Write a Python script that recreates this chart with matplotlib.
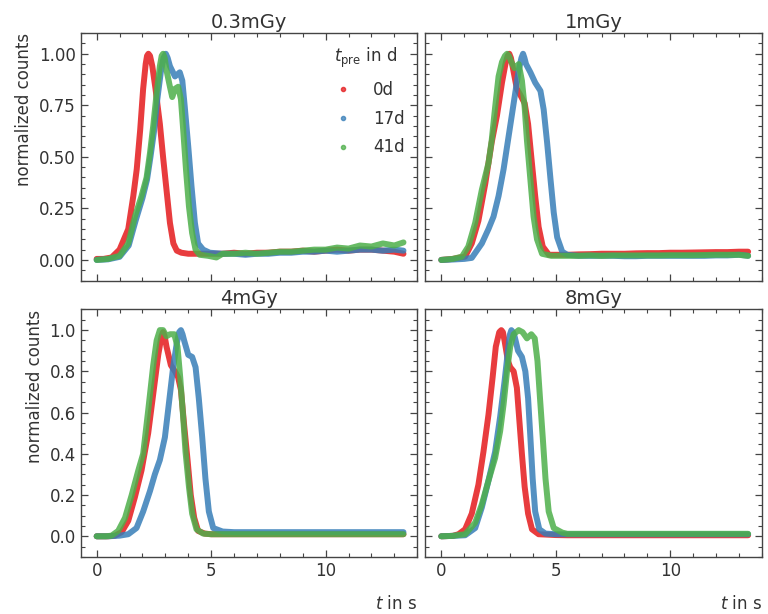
import matplotlib
matplotlib.use("Agg")
import matplotlib.pyplot as plt
from matplotlib.lines import Line2D
from matplotlib.ticker import MultipleLocator
import numpy as np

plt.rcParams['font.family'] = ['DejaVu Sans']
plt.rcParams['mathtext.fontset'] = 'dejavusans'
plt.rcParams['text.color'] = '#333333'
plt.rcParams['axes.labelcolor'] = '#333333'

# ---------------- data ----------------
titles = ["0.3mGy", "1mGy", "4mGy", "8mGy"]
labels = ["0d", "17d", "41d"]
colors = ["#e41a1c", "#377eb8", "#4daf4a"]

tail_x = [5.5, 6, 6.5, 7, 7.5, 8, 8.5, 9, 9.5, 10, 10.5, 11, 11.5, 12, 12.5, 13, 13.4]

# 0.3 mGy
a_red_x = [0, 0.3, 0.65, 1.0, 1.38, 1.6, 1.75, 1.9, 2.03, 2.14, 2.2, 2.26, 2.33, 2.43, 2.57, 2.76, 2.9, 3.05, 3.2, 3.35, 3.5, 3.7, 4.0, 4.5, 5.0]
a_red_y = [0.005, 0.005, 0.012, 0.05, 0.15, 0.31, 0.44, 0.63, 0.83, 0.95, 0.99, 1.0, 0.99, 0.94, 0.83, 0.66, 0.50, 0.34, 0.18, 0.08, 0.045, 0.035, 0.03, 0.03, 0.03]
a_red_t = [0.03, 0.035, 0.03, 0.035, 0.035, 0.04, 0.04, 0.045, 0.04, 0.045, 0.05, 0.045, 0.05, 0.05, 0.045, 0.04, 0.03]
a_blue_x = [0, 0.5, 1.0, 1.4, 1.7, 2.0, 2.2, 2.35, 2.5, 2.65, 2.8, 2.92, 3.02, 3.1, 3.2, 3.42, 3.63, 3.74, 3.85, 4.0, 4.14, 4.29, 4.43, 4.65, 4.94]
a_blue_y = [0.0, 0.003, 0.015, 0.07, 0.19, 0.30, 0.39, 0.50, 0.62, 0.78, 0.91, 0.98, 1.0, 0.98, 0.94, 0.89, 0.91, 0.87, 0.74, 0.55, 0.36, 0.18, 0.08, 0.05, 0.035]
a_blue_t = [0.03, 0.03, 0.025, 0.03, 0.03, 0.035, 0.035, 0.04, 0.04, 0.045, 0.04, 0.045, 0.05, 0.05, 0.045, 0.05, 0.045]
a_green_x = [0, 0.5, 1.0, 1.38, 1.67, 1.96, 2.18, 2.33, 2.47, 2.62, 2.76, 2.84, 2.9, 2.97, 3.05, 3.2, 3.3, 3.42, 3.56, 3.68, 3.78, 3.9, 4.03, 4.17, 4.32, 4.5, 4.87, 5.23]
a_green_y = [0.0, 0.005, 0.02, 0.08, 0.21, 0.31, 0.40, 0.52, 0.65, 0.81, 0.94, 0.99, 1.0, 0.98, 0.92, 0.84, 0.79, 0.83, 0.84, 0.78, 0.63, 0.44, 0.26, 0.13, 0.05, 0.025, 0.02, 0.012]
a_green_t = [0.03, 0.03, 0.035, 0.03, 0.035, 0.04, 0.04, 0.045, 0.05, 0.05, 0.06, 0.055, 0.07, 0.065, 0.08, 0.07, 0.085]

# 1 mGy
b_red_x = [0, 0.5, 1.04, 1.33, 1.62, 1.92, 2.2, 2.43, 2.65, 2.8, 2.9, 2.97, 3.04, 3.11, 3.3, 3.45, 3.64, 3.79, 3.93, 4.1, 4.25, 4.43, 4.7, 5.0]
b_red_y = [0.0, 0.005, 0.016, 0.08, 0.19, 0.37, 0.57, 0.70, 0.86, 0.95, 0.99, 1.0, 0.98, 0.94, 0.83, 0.80, 0.76, 0.66, 0.50, 0.31, 0.16, 0.065, 0.025, 0.025]
b_red_t = [0.025, 0.027, 0.028, 0.03, 0.03, 0.03, 0.032, 0.033, 0.033, 0.035, 0.035, 0.036, 0.037, 0.038, 0.038, 0.04, 0.04]
b_blue_x = [0, 0.5, 1.0, 1.33, 1.77, 2.06, 2.28, 2.5, 2.72, 2.94, 3.16, 3.38, 3.5, 3.57, 3.63, 3.7, 3.89, 4.1, 4.33, 4.47, 4.62, 4.77, 4.91, 5.06, 5.28]
b_blue_y = [0.0, 0.002, 0.005, 0.01, 0.08, 0.15, 0.21, 0.31, 0.44, 0.60, 0.76, 0.92, 0.98, 1.0, 0.98, 0.95, 0.91, 0.86, 0.82, 0.73, 0.57, 0.39, 0.23, 0.11, 0.04]
b_blue_t = [0.025, 0.02, 0.02, 0.02, 0.02, 0.018, 0.018, 0.02, 0.02, 0.02, 0.02, 0.02, 0.02, 0.022, 0.022, 0.025, 0.02]
b_green_x = [0, 0.5, 0.9, 1.18, 1.48, 1.77, 2.06, 2.2, 2.35, 2.5, 2.65, 2.78, 2.87, 2.95, 3.06, 3.2, 3.3, 3.38, 3.52, 3.64, 3.74, 3.89, 4.03, 4.18, 4.4, 4.8]
b_green_y = [0.0, 0.005, 0.016, 0.065, 0.18, 0.34, 0.47, 0.58, 0.74, 0.89, 0.96, 0.99, 1.0, 0.99, 0.96, 0.93, 0.94, 0.95, 0.87, 0.74, 0.58, 0.39, 0.21, 0.10, 0.03, 0.02]
b_green_t = [0.02, 0.02, 0.022, 0.02, 0.022, 0.022, 0.022, 0.022, 0.022, 0.023, 0.023, 0.023, 0.024, 0.025, 0.025, 0.025, 0.02]

# 4 mGy
c_red_x = [0, 0.5, 0.8, 1.09, 1.38, 1.67, 1.96, 2.25, 2.47, 2.69, 2.83, 2.9, 2.97, 3.05, 3.24, 3.42, 3.56, 3.68, 3.82, 3.97, 4.11, 4.26, 4.43, 4.72, 5.0]
c_red_y = [0.0, 0.0, 0.003, 0.02, 0.075, 0.19, 0.32, 0.50, 0.69, 0.88, 0.97, 0.99, 0.97, 0.92, 0.83, 0.80, 0.77, 0.71, 0.54, 0.37, 0.20, 0.09, 0.026, 0.013, 0.01]
c_red_t = [0.01] * 17
c_blue_x = [0, 0.5, 1.0, 1.38, 1.74, 2.03, 2.33, 2.54, 2.76, 2.98, 3.15, 3.34, 3.49, 3.6, 3.68, 3.75, 3.82, 4.0, 4.17, 4.32, 4.46, 4.61, 4.75, 4.9, 5.09]
c_blue_y = [0.0, 0.0, 0.003, 0.01, 0.04, 0.12, 0.22, 0.30, 0.37, 0.48, 0.64, 0.82, 0.93, 0.99, 1.0, 0.98, 0.95, 0.88, 0.87, 0.82, 0.67, 0.48, 0.28, 0.12, 0.04]
c_blue_t = [0.023, 0.02, 0.02, 0.02, 0.02, 0.02, 0.02, 0.02, 0.02, 0.02, 0.02, 0.02, 0.02, 0.02, 0.02, 0.02, 0.02]
c_green_x = [0, 0.4, 0.65, 0.94, 1.24, 1.53, 1.82, 2.03, 2.25, 2.47, 2.62, 2.76, 2.9, 3.05, 3.2, 3.39, 3.53, 3.65, 3.77, 3.88, 4.03, 4.17, 4.36, 4.65, 5.0]
c_green_y = [0.0, 0.0, 0.003, 0.026, 0.09, 0.20, 0.32, 0.40, 0.61, 0.83, 0.95, 1.0, 1.0, 0.97, 0.98, 0.98, 0.92, 0.77, 0.59, 0.41, 0.24, 0.11, 0.034, 0.013, 0.01]
c_green_t = [0.01] * 17

# 8 mGy
d_red_x = [0, 0.5, 0.75, 1.04, 1.33, 1.62, 1.84, 2.06, 2.24, 2.38, 2.53, 2.62, 2.69, 2.76, 2.91, 3.01, 3.16, 3.3, 3.41, 3.52, 3.64, 3.79, 3.96, 4.25, 5.0]
d_red_y = [0.0, 0.002, 0.01, 0.034, 0.11, 0.25, 0.41, 0.59, 0.77, 0.92, 0.99, 1.0, 0.99, 0.95, 0.85, 0.82, 0.80, 0.72, 0.56, 0.40, 0.24, 0.11, 0.034, 0.01, 0.006]
d_red_t = [0.005] * 17
d_blue_x = [0, 0.5, 1.04, 1.48, 1.77, 2.06, 2.35, 2.57, 2.76, 2.91, 3.0, 3.06, 3.13, 3.2, 3.35, 3.52, 3.67, 3.79, 3.89, 3.99, 4.1, 4.28, 4.55, 5.0]
d_blue_y = [0.0, 0.002, 0.005, 0.04, 0.14, 0.27, 0.41, 0.58, 0.75, 0.90, 0.98, 1.0, 0.99, 0.97, 0.90, 0.87, 0.80, 0.67, 0.48, 0.28, 0.12, 0.034, 0.013, 0.01]
d_blue_t = [0.01] * 17
d_green_x = [0, 0.5, 1.04, 1.48, 1.77, 2.06, 2.35, 2.57, 2.72, 2.87, 3.01, 3.16, 3.38, 3.55, 3.74, 3.93, 4.08, 4.2, 4.31, 4.43, 4.55, 4.69, 4.91, 5.28]
d_green_y = [0.0, 0.002, 0.01, 0.066, 0.155, 0.27, 0.38, 0.51, 0.64, 0.80, 0.92, 0.98, 1.0, 0.99, 0.96, 0.98, 0.96, 0.85, 0.67, 0.48, 0.28, 0.12, 0.04, 0.018]
d_green_t = [0.012] * 17

panels = [
    [(a_red_x, a_red_y, a_red_t), (a_blue_x, a_blue_y, a_blue_t), (a_green_x, a_green_y, a_green_t)],
    [(b_red_x, b_red_y, b_red_t), (b_blue_x, b_blue_y, b_blue_t), (b_green_x, b_green_y, b_green_t)],
    [(c_red_x, c_red_y, c_red_t), (c_blue_x, c_blue_y, c_blue_t), (c_green_x, c_green_y, c_green_t)],
    [(d_red_x, d_red_y, d_red_t), (d_blue_x, d_blue_y, d_blue_t), (d_green_x, d_green_y, d_green_t)],
]

# ---------------- figure ----------------
fig, axes = plt.subplots(2, 2, figsize=(7.68, 6.14), dpi=100, sharex=True)
fig.subplots_adjust(left=0.105, right=0.992, top=0.946, bottom=0.093, wspace=0.024, hspace=0.117)

for i, ax in enumerate(axes.flat):
    for (xs, ys, ts), c in zip(panels[i], colors):
        tx = [t for t in tail_x if t > xs[-1]]
        ty = ts[len(ts) - len(tx):]
        x = np.array(xs + tx)
        y = np.array(ys + ty)
        ax.plot(x, y, color=c, lw=4.3, alpha=0.85, solid_capstyle='round', solid_joinstyle='round')
    ax.set_title(titles[i], fontsize=14, pad=4, color='#333333')
    ax.set_xlim(-0.7, 14.0)
    ax.set_ylim(-0.1, 1.1)
    ax.xaxis.set_major_locator(MultipleLocator(5))
    ax.xaxis.set_minor_locator(MultipleLocator(1))
    ax.yaxis.set_minor_locator(MultipleLocator(0.05))
    if i < 2:
        ax.yaxis.set_major_locator(MultipleLocator(0.25))
        ax.yaxis.set_major_formatter(plt.FormatStrFormatter('%.2f'))
    else:
        ax.yaxis.set_major_locator(MultipleLocator(0.2))
        ax.yaxis.set_major_formatter(plt.FormatStrFormatter('%.1f'))
    ax.tick_params(which='both', direction='in', top=True, right=True, labelsize=12,
                   color='#444444', labelcolor='#333333')
    ax.tick_params(which='major', length=5, width=0.9)
    ax.tick_params(which='minor', length=3, width=0.8)
    for s in ax.spines.values():
        s.set_color('#444444')
        s.set_linewidth(1.0)
    if i % 2 == 1:
        ax.tick_params(labelleft=False)
    else:
        ax.set_ylabel("normalized counts", fontsize=12, labelpad=4, loc='top')
    if i >= 2:
        ax.set_xlabel("$t$ in s", fontsize=12, loc='right', labelpad=11)

handles = [Line2D([], [], marker='o', ls='', color=c, markersize=3, alpha=0.75) for c in colors]
leg = axes[0, 0].legend(handles, labels, title="$t_{\\mathrm{pre}}$ in d", loc='upper right',
                        frameon=False, fontsize=12, title_fontsize=12, borderaxespad=0.35,
                        labelspacing=0.65)

fig.savefig("out.png", dpi=100)
